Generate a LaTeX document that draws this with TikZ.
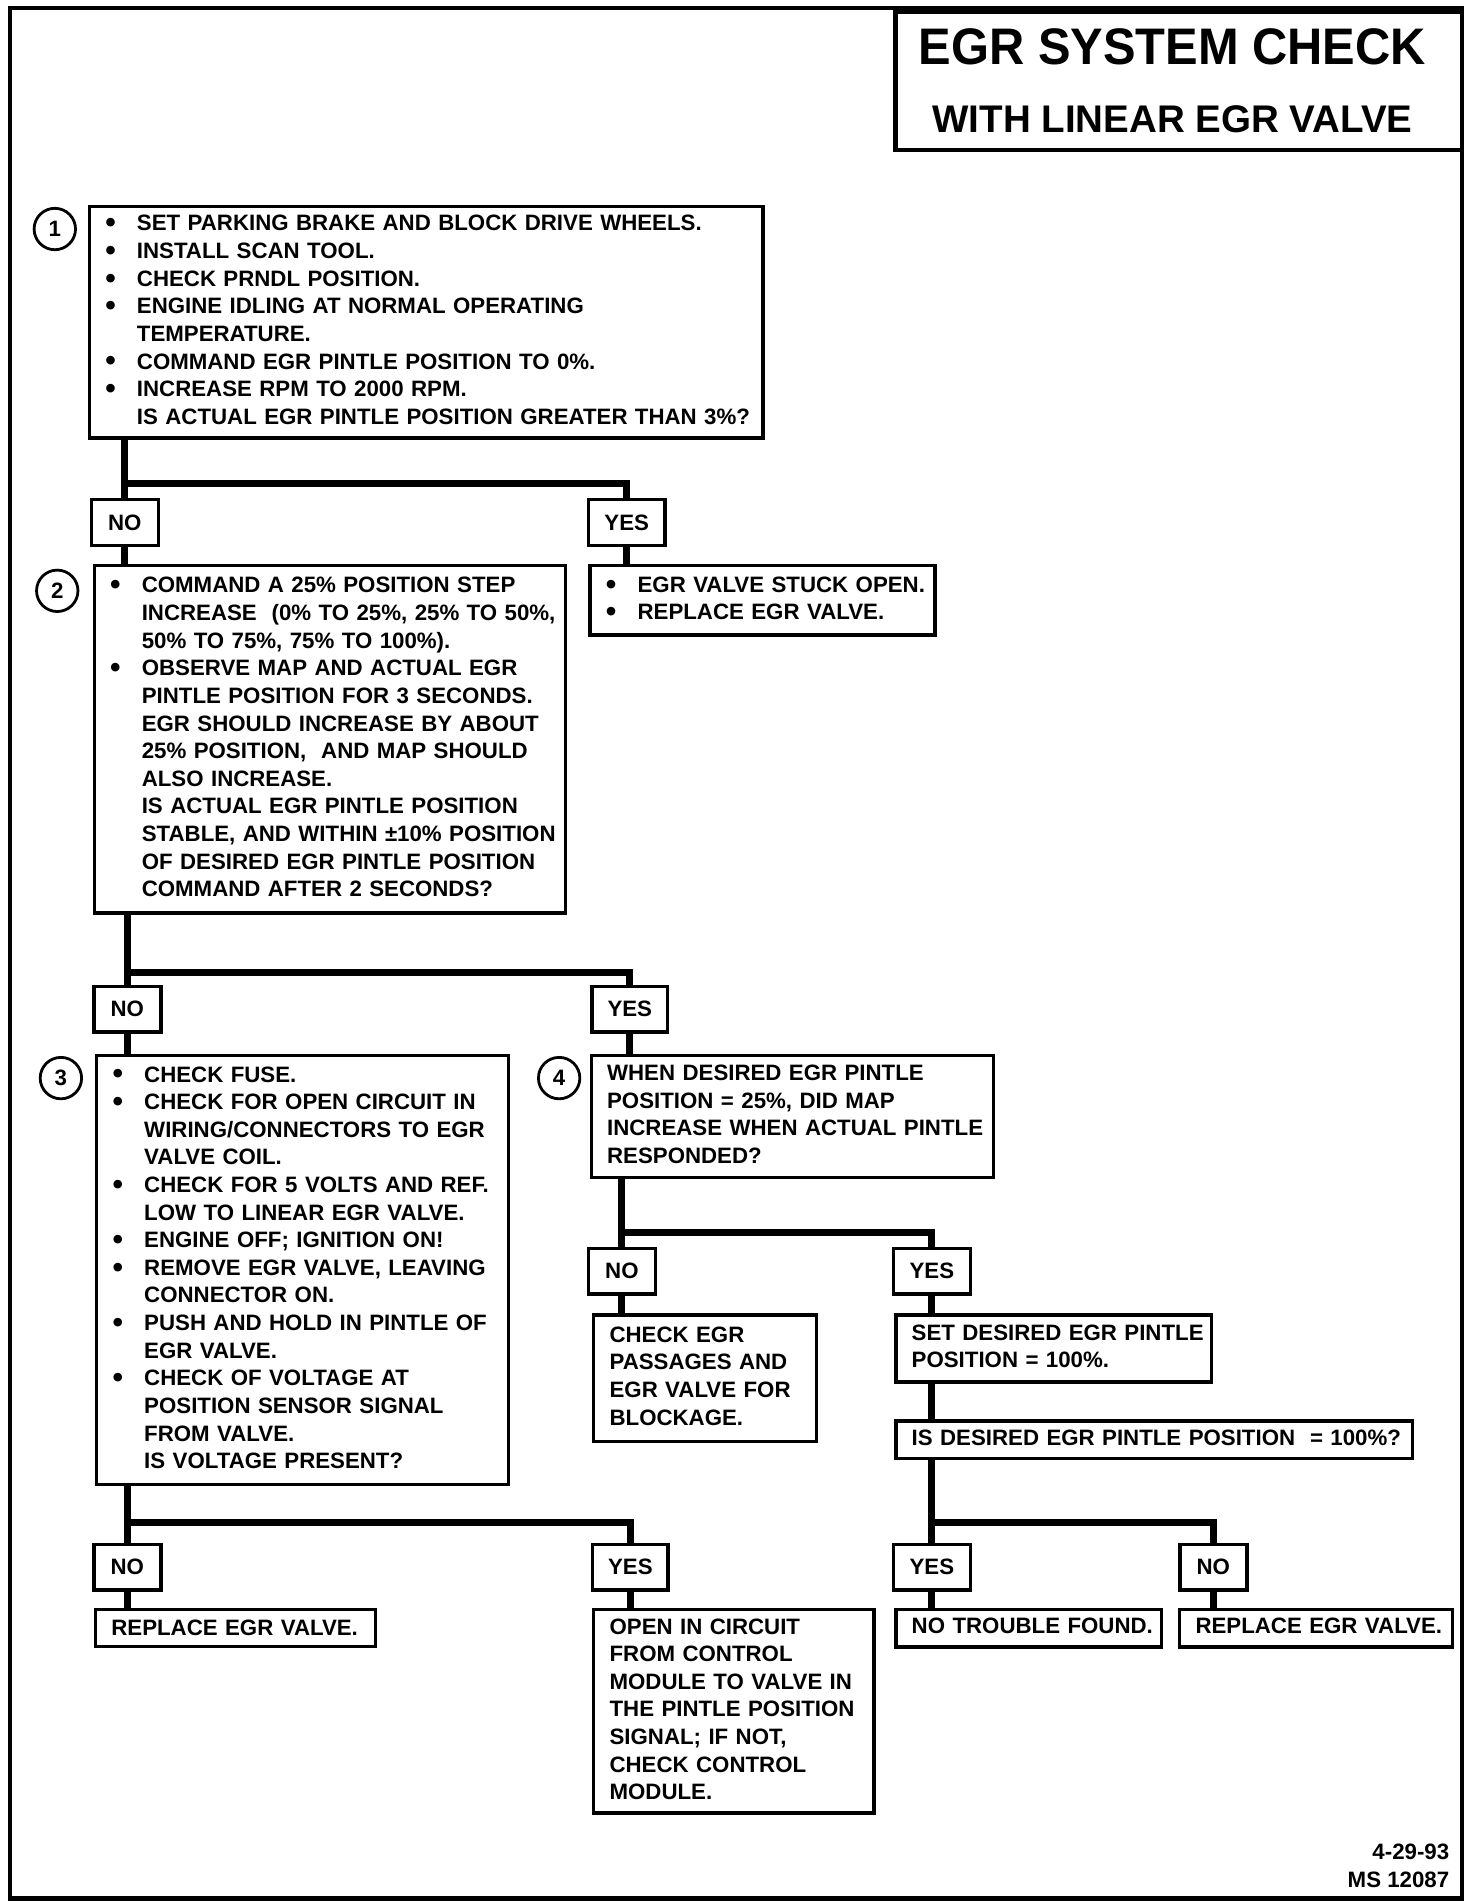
\documentclass[tikz,border=0pt]{standalone}
\usepackage{fontspec}
\usepackage{graphicx}
\setmainfont{Liberation Sans}
\usetikzlibrary{positioning}

\newcommand\flowfont{\fontsize{10.4}{12.9}\selectfont\bfseries}
\newcommand\bul{\raisebox{-0.9pt}{\fontsize{14}{12}\selectfont\textbullet}}
\newenvironment{steplist}{\begin{tabular}{@{}p{0.52cm}@{}l@{}}}{\end{tabular}}
\newenvironment{textlines}{\begin{tabular}{@{}l@{}}}{\end{tabular}}

\begin{document}
\begin{tikzpicture}[every node/.style={font=\flowfont},
  stepbox/.style={draw,rectangle,line width=1.6pt,anchor=north west,align=left,inner xsep=0.26cm,inner ysep=0.08cm},
  answer/.style={draw,rectangle,line width=1.6pt,minimum width=1.1cm,minimum height=0.75cm,inner sep=0pt},
  num/.style={draw,circle,line width=1.3pt,minimum size=0.68cm,inner sep=0pt},
  flow/.style={line width=3.2pt}]
\useasboundingbox (0,0) rectangle (24.16,-31.26);
\draw[line width=2pt] (0.16,-0.13) rectangle (24.0,-31.17);

% title
\draw[line width=2pt] (14.7,-0.2) rectangle (24.0,-2.46);
\node[font=\fontsize{24}{28}\selectfont\bfseries] (title) at (19.25,-0.77) {\scalebox{0.95}[1]{EGR SYSTEM CHECK}};
\node[font=\fontsize{18}{22}\selectfont\bfseries] (subtitle) at (19.25,-1.95) {WITH LINEAR EGR VALVE};

% step 1
\node[num] (n_1) at (0.9,-3.76) {1};
\node[stepbox,text width=10.54cm,minimum height=3.8cm] (box_1) at (1.44,-3.36) {\begin{steplist}
\bul & SET PARKING BRAKE AND BLOCK DRIVE WHEELS.\\
\bul & INSTALL SCAN TOOL.\\
\bul & CHECK PRNDL POSITION.\\
\bul & ENGINE IDLING AT NORMAL OPERATING\\
 & TEMPERATURE.\\
\bul & COMMAND EGR PINTLE POSITION TO 0\%.\\
\bul & INCREASE RPM TO 2000 RPM.\\
 & IS ACTUAL EGR PINTLE POSITION GREATER THAN 3\%?
\end{steplist}};
\node[answer] (no_1) at (2.05,-8.58) {NO};
\node[answer,minimum width=1.26cm] (yes_1) at (10.29,-8.58) {YES};
\node[stepbox,text width=5.14cm,minimum height=1.14cm] (stuck) at (9.66,-9.26) {\begin{steplist}
\bul & EGR VALVE STUCK OPEN.\\
\bul & REPLACE EGR VALVE.
\end{steplist}};

% step 2
\node[num] (n_2) at (0.94,-9.7) {2};
\node[stepbox,text width=7.22cm,minimum height=5.7cm] (box_2) at (1.52,-9.26) {\begin{steplist}
\bul & COMMAND A 25\% POSITION STEP\\
 & INCREASE\ \ (0\% TO 25\%, 25\% TO 50\%,\\
 & 50\% TO 75\%, 75\% TO 100\%).\\
\bul & OBSERVE MAP AND ACTUAL EGR\\
 & PINTLE POSITION FOR 3 SECONDS.\\
 & EGR SHOULD INCREASE BY ABOUT\\
 & 25\% POSITION,\ \ AND MAP SHOULD\\
 & ALSO INCREASE.\\
 & IS ACTUAL EGR PINTLE POSITION\\
 & STABLE, AND WITHIN ±10\% POSITION\\
 & OF DESIRED EGR PINTLE POSITION\\
 & COMMAND AFTER 2 SECONDS?
\end{steplist}};
\node[answer] (no_2) at (2.09,-16.57) {NO};
\node[answer,minimum width=1.24cm] (yes_2) at (10.34,-16.57) {YES};

% step 3
\node[num] (n_3) at (1.0,-17.7) {3};
\node[stepbox,text width=6.24cm,minimum height=7.04cm] (box_3) at (1.56,-17.3) {\begin{steplist}
\bul & CHECK FUSE.\\
\bul & CHECK FOR OPEN CIRCUIT IN\\
 & WIRING/CONNECTORS TO EGR\\
 & VALVE COIL.\\
\bul & CHECK FOR 5 VOLTS AND REF.\\
 & LOW TO LINEAR EGR VALVE.\\
\bul & ENGINE OFF; IGNITION ON!\\
\bul & REMOVE EGR VALVE, LEAVING\\
 & CONNECTOR ON.\\
\bul & PUSH AND HOLD IN PINTLE OF\\
 & EGR VALVE.\\
\bul & CHECK OF VOLTAGE AT\\
 & POSITION SENSOR SIGNAL\\
 & FROM VALVE.\\
 & IS VOLTAGE PRESENT?
\end{steplist}};
\node[answer] (no_5) at (2.09,-25.73) {NO};
\node[answer,minimum width=1.24cm] (yes_5) at (10.35,-25.73) {YES};
\node[stepbox,text width=4.08cm,minimum height=0.6cm] (repl_1) at (1.54,-26.4) {REPLACE EGR VALVE.};
\node[stepbox,text width=4.08cm,minimum height=3.34cm] (open) at (9.72,-26.4) {\begin{textlines}
OPEN IN CIRCUIT\\FROM CONTROL\\MODULE TO VALVE IN\\THE PINTLE POSITION\\SIGNAL; IF NOT,\\CHECK CONTROL\\MODULE.
\end{textlines}};

% step 4
\node[num] (n_4) at (9.18,-17.7) {4};
\node[stepbox,text width=6.08cm,minimum height=2.0cm] (box_4) at (9.68,-17.3) {\begin{textlines}
WHEN DESIRED EGR PINTLE\\POSITION = 25\%, DID MAP\\INCREASE WHEN ACTUAL PINTLE\\RESPONDED?
\end{textlines}};
\node[answer] (no_4) at (10.21,-20.87) {NO};
\node[answer,minimum width=1.26cm] (yes_4) at (15.3,-20.87) {YES};
\node[stepbox,text width=3.14cm,minimum height=2.08cm] (blocked) at (9.72,-21.56) {\begin{textlines}
CHECK EGR\\PASSAGES AND\\EGR VALVE FOR\\BLOCKAGE.
\end{textlines}};
\node[stepbox,text width=4.66cm,minimum height=1.1cm] (set_100) at (14.68,-21.56) {\begin{textlines}
SET DESIRED EGR PINTLE\\POSITION = 100\%.
\end{textlines}};
\node[stepbox,text width=7.96cm,minimum height=0.6cm] (ask_100) at (14.68,-23.3) {\begin{textlines}
IS DESIRED EGR PINTLE POSITION\ \ = 100\%?
\end{textlines}};
\node[answer,minimum width=1.26cm] (yes_6) at (15.3,-25.73) {YES};
\node[answer] (no_6) at (19.92,-25.73) {NO};
\node[stepbox,text width=3.84cm,minimum height=0.56cm] (ntf) at (14.68,-26.4) {\begin{textlines}
NO TROUBLE FOUND.
\end{textlines}};
\node[stepbox,text width=3.96cm,minimum height=0.56cm] (repl_2) at (19.34,-26.4) {\begin{textlines}
REPLACE EGR VALVE.
\end{textlines}};

\node[anchor=north east,align=right,inner sep=0pt] (stamp) at (23.8,-30.27) {4-29-93\\MS 12087};

% connectors
\coordinate (j_1) at (0,-7.94);
\coordinate (j_2) at (0,-15.96);
\coordinate (j_4) at (0,-20.24);
\coordinate (j_5) at (0,-25.0);
\draw[flow] (no_1 |- box_1.south) -- (no_1.north);
\draw[flow] (no_1 |- j_1) -| (yes_1.north);
\draw[flow] (no_1.south) -- (no_1 |- box_2.north);
\draw[flow] (yes_1.south) -- (yes_1 |- stuck.north);
\draw[flow] (no_2 |- box_2.south) -- (no_2.north);
\draw[flow] (no_2 |- j_2) -| (yes_2.north);
\draw[flow] (no_2.south) -- (no_2 |- box_3.north);
\draw[flow] (yes_2.south) -- (yes_2 |- box_4.north);
\draw[flow] (no_5 |- box_3.south) -- (no_5.north);
\draw[flow] (no_5 |- j_5) -| (yes_5.north);
\draw[flow] (no_5.south) -- (no_5 |- repl_1.north);
\draw[flow] (yes_5.south) -- (yes_5 |- open.north);
\draw[flow] (no_4 |- box_4.south) -- (no_4.north);
\draw[flow] (no_4 |- j_4) -| (yes_4.north);
\draw[flow] (no_4.south) -- (no_4 |- blocked.north);
\draw[flow] (yes_4.south) -- (yes_4 |- set_100.north);
\draw[flow] (yes_4 |- set_100.south) -- (yes_4 |- ask_100.north);
\draw[flow] (yes_6 |- ask_100.south) -- (yes_6.north);
\draw[flow] (yes_6 |- j_5) -| (no_6.north);
\draw[flow] (yes_6.south) -- (yes_6 |- ntf.north);
\draw[flow] (no_6.south) -- (no_6 |- repl_2.north);
\end{tikzpicture}
\end{document}
